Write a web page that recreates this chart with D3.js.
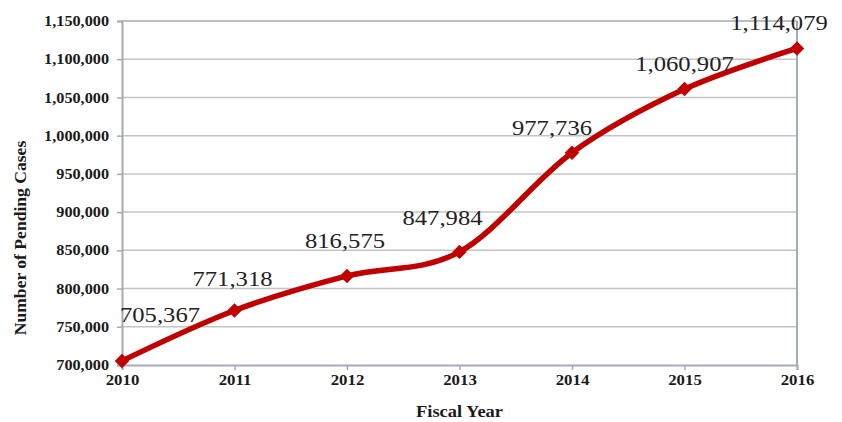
<!DOCTYPE html>
<html>
<head>
<meta charset="utf-8">
<script src="https://cdn.jsdelivr.net/npm/d3@7"></script>
<style>
  body { margin: 0; background: #fff; }
  svg text { font-family: "Liberation Serif", "Times New Roman", serif; }
</style>
</head>
<body>
<svg id="chart" width="842" height="422"></svg>
<script>
// data
var years = [2010, 2011, 2012, 2013, 2014, 2015, 2016];
var pending = [705367, 771318, 816575, 847984, 977736, 1060907, 1114079];
var yTicks = [700000, 750000, 800000, 850000, 900000, 950000, 1000000, 1050000, 1100000, 1150000];

// label nudges (like hand-placed labels in the original)
var labelDx = [38, -2, -2, -17, -20, 0, -18];
var labelDy = [-39, -24, -28, -27, -18, -18, -18];

var margin = { left: 122, right: 45, top: 21, bottom: 57 };
var W = 842, H = 422;
var stretch = 1.12; // text in original looks a bit wide

var svg = d3.select('#chart');

var x = d3.scalePoint()
    .domain(years)
    .range([margin.left, W - margin.right]);

var y = d3.scaleLinear()
    .domain([700000, 1150000])
    .range([H - margin.bottom, margin.top]);

var fmt = d3.format(',');

//그리드
var grid = svg.append('g');
grid.selectAll('line')
    .data(yTicks.slice(1, -1))
    .enter().append('line')
    .attr('x1', margin.left)
    .attr('x2', W - margin.right)
    .attr('y1', function(d) { return y(d); })
    .attr('y2', function(d) { return y(d); })
    .style('stroke', '#c4c4c4')
    .style('stroke-width', 1.5);

// frame top + right
svg.append('line')
    .attr('x1', margin.left).attr('x2', W - margin.right)
    .attr('y1', y(1150000)).attr('y2', y(1150000))
    .style('stroke', '#a3aab8').style('stroke-width', 1.5);
svg.append('line')
    .attr('x1', W - margin.right).attr('x2', W - margin.right)
    .attr('y1', margin.top).attr('y2', H - margin.bottom)
    .style('stroke', '#a3aab8').style('stroke-width', 2);

// y axis
var yAxis = svg.append('g')
    .attr('transform', 'translate(' + margin.left + ',0)')
    .call(d3.axisLeft(y).tickValues(yTicks).tickFormat(fmt).tickSize(5).tickPadding(8));
yAxis.select('.domain').style('stroke', '#a3aab8').style('stroke-width', 2);
yAxis.selectAll('.tick line').style('stroke', '#a3aab8').style('stroke-width', 1.5);
yAxis.selectAll('.tick text')
    .style('font-family', '"Liberation Serif", serif')
    .style('font-weight', 'bold')
    .style('font-size', '14.5px')
    .style('fill', '#1a1a1a')
    .attr('x', null)
    .attr('transform', 'translate(-13,0) scale(' + stretch + ',1)');

// x axis
var xAxis = svg.append('g')
    .attr('transform', 'translate(0,' + (H - margin.bottom) + ')')
    .call(d3.axisBottom(x).tickSize(5).tickPadding(7));
xAxis.select('.domain').style('stroke', '#a3aab8').style('stroke-width', 2);
xAxis.selectAll('.tick line').style('stroke', '#a3aab8').style('stroke-width', 1.5);
xAxis.selectAll('.tick text')
    .style('font-family', '"Liberation Serif", serif')
    .style('font-weight', 'bold')
    .style('font-size', '15px')
    .style('fill', '#1a1a1a')
    .attr('y', null)
    .attr('dy', null)
    .attr('transform', 'translate(0,20) scale(' + stretch + ',1)');

// axis titles
svg.append('text')
    .attr('transform', 'translate(' + ((margin.left + W - margin.right) / 2) + ',417) scale(' + stretch + ',1)')
    .attr('text-anchor', 'middle')
    .style('font-weight', 'bold')
    .style('font-size', '16.5px')
    .style('fill', '#1a1a1a')
    .text('Fiscal Year');

svg.append('text')
    .attr('transform', 'translate(26,238) rotate(-90) scale(1.1,1)')
    .attr('text-anchor', 'middle')
    .style('font-weight', 'bold')
    .style('font-size', '16px')
    .style('fill', '#1a1a1a')
    .text('Number of Pending Cases');

// line
var line = d3.line()
    .x(function(d, i) { return x(years[i]); })
    .y(function(d) { return y(d); })
    .curve(d3.curveCardinal.tension(0));

svg.append('path')
    .datum(pending)
    .attr('d', line)
    .style('fill', 'none')
    .style('stroke', '#c00000')
    .style('stroke-width', 5.5)
    .style('stroke-linejoin', 'round');

// markers
var diamond = d3.symbol().type(d3.symbolSquare).size(105);
svg.selectAll('.marker')
    .data(pending)
    .enter().append('path')
    .attr('class', 'marker')
    .attr('d', diamond)
    .attr('transform', function(d, i) { return 'translate(' + x(years[i]) + ',' + y(d) + ') rotate(45)'; })
    .style('fill', '#c00000');

// data labels
svg.selectAll('.dlabel')
    .data(pending)
    .enter().append('text')
    .attr('class', 'dlabel')
    .attr('text-anchor', 'middle')
    .attr('transform', function(d, i) {
        return 'translate(' + (x(years[i]) + labelDx[i]) + ',' + (y(d) + labelDy[i]) + ') scale(' + stretch + ',1)';
    })
    .style('font-family', '"Liberation Serif", "Times New Roman", serif')
    .style('font-size', '22px')
    .style('fill', '#222')
    .text(function(d) { return fmt(d); });
</script>
</body>
</html>
